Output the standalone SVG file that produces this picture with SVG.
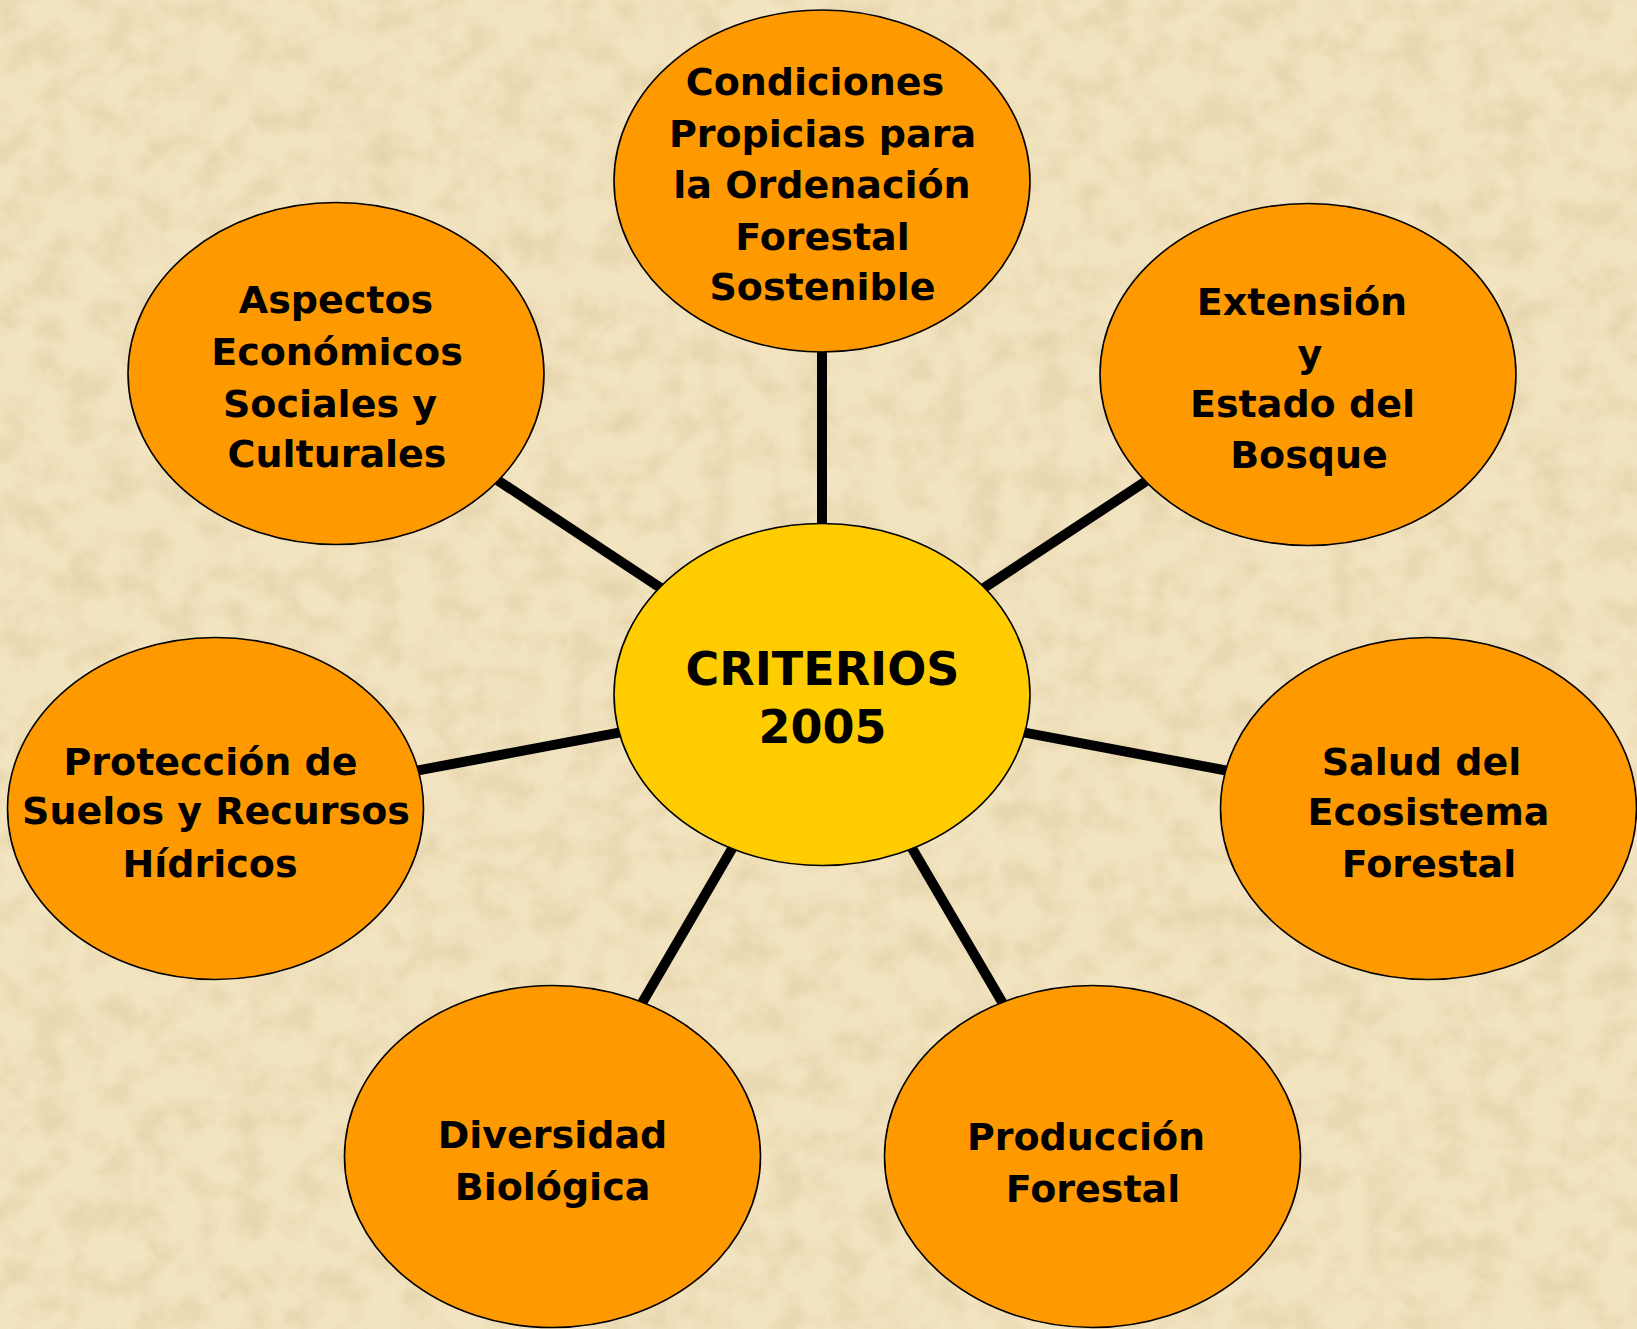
<svg xmlns="http://www.w3.org/2000/svg" width="1637" height="1329" viewBox="0 0 1637 1329">
<style>
.node{fill:#FF9900;stroke:#000;stroke-width:1.6}
.core{fill:#FFCC00;stroke:#000;stroke-width:1.6}
.lbl{font-family:"DejaVu Sans","Verdana",sans-serif;font-weight:bold;font-size:38px;fill:#000;text-anchor:middle}
.big{font-size:46px}
.conn line{stroke:#000;stroke-width:10}
</style>
<defs>
<filter id="paper" x="0" y="0" width="100%" height="100%">
<feTurbulence type="fractalNoise" baseFrequency="0.03" numOctaves="5" seed="11" result="n"/>
<feColorMatrix in="n" type="matrix" values="0 0 0 0 0.62  0 0 0 0 0.48  0 0 0 0 0.25  1.4 0 0 0 -0.55"/>
</filter>
</defs>
<rect width="1637" height="1329" fill="#F2E4C0"/>
<rect width="1637" height="1329" filter="url(#paper)" opacity="0.5"/>
<g id="connectors" class="conn">
<line x1="822" y1="694.5" x2="822" y2="181"/>
<line x1="822" y1="694.5" x2="336" y2="373.5"/>
<line x1="822" y1="694.5" x2="1308" y2="374.5"/>
<line x1="822" y1="694.5" x2="215.5" y2="808.5"/>
<line x1="822" y1="694.5" x2="1428.5" y2="808.5"/>
<line x1="822" y1="694.5" x2="552.5" y2="1156.5"/>
<line x1="822" y1="694.5" x2="1092.5" y2="1156.5"/>
</g>
<g id="node-top">
<ellipse class="node" cx="822" cy="181" rx="208" ry="171"/>
<text class="lbl"><tspan x="815" y="95">Condiciones</tspan><tspan x="822.5" y="147">Propicias para</tspan><tspan x="822" y="198">la Ordenación</tspan><tspan x="822.5" y="250">Forestal</tspan><tspan x="822.5" y="300">Sostenible</tspan></text>
</g>
<g id="node-top-left">
<ellipse class="node" cx="336" cy="373.5" rx="208" ry="171"/>
<text class="lbl"><tspan x="336" y="313">Aspectos</tspan><tspan x="337" y="365">Económicos</tspan><tspan x="330" y="417">Sociales y</tspan><tspan x="337" y="467">Culturales</tspan></text>
</g>
<g id="node-top-right">
<ellipse class="node" cx="1308" cy="374.5" rx="208" ry="171"/>
<text class="lbl"><tspan x="1302" y="315">Extensión</tspan><tspan x="1310" y="367">y</tspan><tspan x="1302.5" y="417">Estado del</tspan><tspan x="1309" y="468">Bosque</tspan></text>
</g>
<g id="node-left">
<ellipse class="node" cx="215.5" cy="808.5" rx="208" ry="171"/>
<text class="lbl"><tspan x="210.5" y="775">Protección de</tspan><tspan x="216" y="824">Suelos y Recursos</tspan><tspan x="210" y="876.5">Hídricos</tspan></text>
</g>
<g id="node-right">
<ellipse class="node" cx="1428.5" cy="808.5" rx="208" ry="171"/>
<text class="lbl"><tspan x="1421.5" y="775">Salud del</tspan><tspan x="1428.5" y="825">Ecosistema</tspan><tspan x="1429" y="876.5">Forestal</tspan></text>
</g>
<g id="node-bottom-left">
<ellipse class="node" cx="552.5" cy="1156.5" rx="208" ry="171"/>
<text class="lbl"><tspan x="552.5" y="1148">Diversidad</tspan><tspan x="552.5" y="1200">Biológica</tspan></text>
</g>
<g id="node-bottom-right">
<ellipse class="node" cx="1092.5" cy="1156.5" rx="208" ry="171"/>
<text class="lbl"><tspan x="1086" y="1150">Producción</tspan><tspan x="1093" y="1201.5">Forestal</tspan></text>
</g>
<g id="node-center">
<ellipse class="core" cx="822" cy="694.5" rx="208" ry="171"/>
<text class="lbl big"><tspan x="822.5" y="685">CRITERIOS</tspan><tspan x="822.5" y="743">2005</tspan></text>
</g>
</svg>
